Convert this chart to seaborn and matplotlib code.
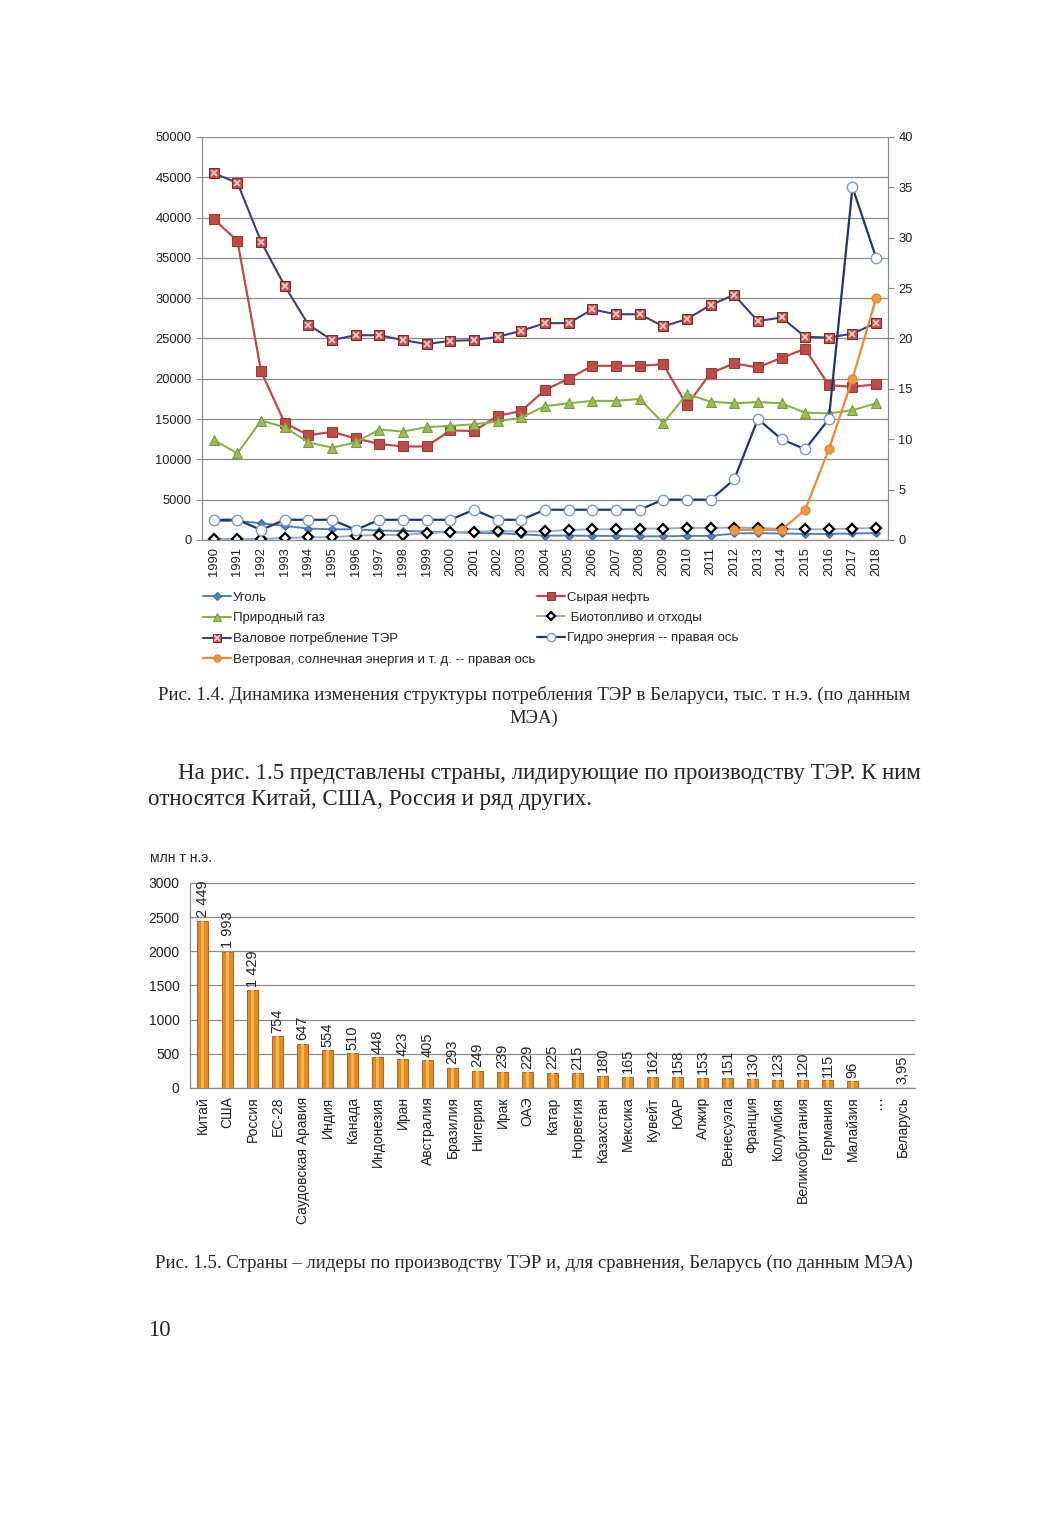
import numpy as np
import pandas as pd
import matplotlib
matplotlib.use('Agg')
import matplotlib.pyplot as plt
import seaborn as sns

# Fig 1.4 data (thousand t o.e.), right-axis series in separate lists
years = list(range(1990, 2019))
coal = [2360, 2360, 2070, 1740, 1410, 1320, 1320, 1160, 1120, 1030, 950, 870, 830, 700,
        540, 540, 500, 500, 450, 450, 500, 500, 800, 850, 800, 750, 750, 800, 850]
crude = [39800, 37100, 20900, 14500, 13000, 13400, 12600, 11900, 11600, 11600, 13600, 13500,
         15400, 16000, 18600, 20000, 21600, 21600, 21600, 21800, 16700, 20700, 21900, 21400,
         22600, 23700, 19200, 19000, 19300]
gas = [12400, 10750, 14800, 14000, 12100, 11450, 12100, 13700, 13450, 14000, 14150, 14350,
       14700, 15200, 16600, 16950, 17250, 17250, 17500, 14500, 18100, 17150, 16950, 17100,
       16950, 15800, 15700, 16100, 16950]
biofuel = [120, 120, 120, 250, 330, 330, 540, 620, 620, 830, 990, 990, 1120, 1030, 1070,
           1240, 1320, 1320, 1410, 1410, 1490, 1490, 1530, 1490, 1370, 1320, 1320, 1410, 1490]
gross = [45500, 44300, 37000, 31500, 26700, 24800, 25400, 25400, 24800, 24300, 24700, 24800,
         25200, 25950, 26900, 26900, 28600, 28000, 28000, 26500, 27400, 29150, 30400, 27150,
         27600, 25200, 25100, 25600, 26900]
hydro = [2, 2, 1, 2, 2, 2, 1, 2, 2, 2, 2, 3, 2, 2, 3, 3, 3, 3, 3, 4, 4, 4, 6, 12, 10, 9, 12, 35, 28]
wind = [np.nan] * 22 + [1, 1, 1, 3, 9, 16, 24]

# Fig 1.5 data (mln t o.e.)
countries = ['Китай', 'США', 'Россия', 'ЕС-28', 'Саудовская Аравия', 'Индия', 'Канада',
             'Индонезия', 'Иран', 'Австралия', 'Бразилия', 'Нигерия', 'Ирак', 'ОАЭ', 'Катар',
             'Норвегия', 'Казахстан', 'Мексика', 'Кувейт', 'ЮАР', 'Алжир', 'Венесуэла',
             'Франция', 'Колумбия', 'Великобритания', 'Германия', 'Малайзия', '…', 'Беларусь']
production = [2449, 1993, 1429, 754, 647, 554, 510, 448, 423, 405, 293, 249, 239, 229, 225,
              215, 180, 165, 162, 158, 153, 151, 130, 123, 120, 115, 96, np.nan, 3.95]
bar_labels = ['2 449', '1 993', '1 429', '754', '647', '554', '510', '448', '423', '405', '293',
              '249', '239', '229', '225', '215', '180', '165', '162', '158', '153', '151', '130',
              '123', '120', '115', '96', '', '3,95']

sns.set_theme(style='white')
plt.rcParams['font.family'] = ['Liberation Sans', 'DejaVu Sans']
GRID = '#8c8c8c'
SERIF = ['Liberation Serif', 'DejaVu Serif']

fig = plt.figure(figsize=(10.58, 15.30), dpi=100)

#----- Fig 1.4 : line chart with secondary axis
ax1 = fig.add_axes([0.1909, 0.6471, 0.6484, 0.2634])
ax1r = ax1.twinx()

sns.lineplot(x=years, y=coal, ax=ax1, color='#4f81bd', lw=1.4, marker='D', ms=4.5,
             mec='#3a6aa5', mfc='#4f81bd')
h_coal = ax1.lines[-1]
sns.lineplot(x=years, y=crude, ax=ax1, color='#be4b48', lw=1.6, marker='s', ms=6.5,
             mec='#a03a37', mfc='#be4b48')
h_crude = ax1.lines[-1]
sns.lineplot(x=years, y=gas, ax=ax1, color='#8db04a', lw=1.5, marker='^', ms=6.5,
             mec='#7a9a3a', mfc='#9bbb59')
h_gas = ax1.lines[-1]
sns.lineplot(x=years, y=biofuel, ax=ax1, color='#9aaccc', lw=1.4, marker='D', ms=5.5,
             mec='black', mfc='white', mew=1.6)
h_bio = ax1.lines[-1]
sns.lineplot(x=years, y=gross, ax=ax1, color='#3f3f7a', lw=1.5, marker='s', ms=7.5,
             mec='#7e2a28', mfc='#c0504d')
h_gross = ax1.lines[-1]
sns.lineplot(x=years, y=gross, ax=ax1, ls='none', marker='x', ms=5, mec='#f6cccc', mew=1.3)
h_gross_x = ax1.lines[-1]

sns.lineplot(x=years, y=hydro, ax=ax1r, color='#1f3864', lw=1.6, marker='o', ms=7.5,
             mec='#7f9cc8', mfc='white', mew=1.0)
h_hydro = ax1r.lines[-1]
sns.lineplot(x=years, y=wind, ax=ax1r, color='#eb8a3c', lw=1.6, marker='o', ms=6.5,
             mec='#e07f30', mfc='#f0993f')
h_wind = ax1r.lines[-1]

ax1.set_xlim(1989.5, 2018.5)
ax1.set_ylim(0, 50000)
ax1.set_yticks(range(0, 50001, 5000))
ax1r.set_ylim(0, 40)
ax1r.set_yticks(range(0, 41, 5))
ax1.set_xticks(years)
ax1.set_xticklabels([str(y) for y in years], rotation=90)
ax1.yaxis.grid(True, color=GRID, lw=0.9)
ax1.set_axisbelow(True)
ax1r.grid(False)
for a in (ax1, ax1r):
    for s in a.spines.values():
        s.set_visible(False)
    a.tick_params(axis='both', labelsize=9.3, colors='#222222', length=4, width=0.8)
    a.tick_params(axis='both', color=GRID)
ax1.spines['left'].set_visible(True)
ax1.spines['bottom'].set_visible(True)
ax1r.spines['right'].set_visible(True)
for s in (ax1.spines['left'], ax1.spines['bottom'], ax1r.spines['right']):
    s.set_color(GRID)
    s.set_linewidth(0.9)
ax1.tick_params(axis='x', length=3, pad=2)
ax1.set_xlabel('')

handles = [h_coal, h_gas, (h_gross, h_gross_x), h_wind, h_crude, h_bio, h_hydro]
labels = ['Уголь', 'Природный газ', 'Валовое потребление ТЭР',
          'Ветровая, солнечная энергия и т. д. -- правая ось',
          'Сырая нефть', ' Биотопливо и отходы', 'Гидро энергия -- правая ось']
fig.legend(handles, labels, ncol=2, loc='upper left', bbox_to_anchor=(0.186, 0.6178),
           frameon=False, fontsize=9.5, handlelength=2.1, handletextpad=0.15,
           columnspacing=0.15, labelspacing=0.62, borderpad=0, markerscale=0.8)

fig.text(0.5047, 1 - 695 / 1530,
         'Рис. 1.4. Динамика изменения структуры потребления ТЭР в Беларуси, тыс. т н.э. (по данным',
         ha='center', va='center', family=SERIF, fontsize=13.5)
fig.text(0.5047, 1 - 718 / 1530, 'МЭА)', ha='center', va='center', family=SERIF, fontsize=13.5)

fig.text(178 / 1058, 1 - 773 / 1530,
         'На рис. 1.5 представлены страны, лидирующие по производству ТЭР. К ним',
         ha='left', va='center', family=SERIF, fontsize=16.45)
fig.text(148 / 1058, 1 - 800 / 1530, 'относятся Китай, США, Россия и ряд других.',
         ha='left', va='center', family=SERIF, fontsize=16.45)

#----- Fig 1.5 : bar chart
ax2 = fig.add_axes([0.1796, 0.2889, 0.6853, 0.134])
df = pd.DataFrame({'country': countries, 'value': production})
sns.barplot(data=df, x='country', y='value', order=countries, ax=ax2, color='#e58a1e',
            saturation=1, width=0.42, edgecolor='#a85410', linewidth=0.6, errorbar=None)
sns.barplot(data=df, x='country', y='value', order=countries, ax=ax2, color='#f7b655',
            saturation=1, width=0.14, linewidth=0, errorbar=None)

for p in ax2.patches[:len(countries)]:
    h = p.get_height()
    if np.isnan(h) or p.get_width() < 0.3:
        continue
    idx = int(round(p.get_x() + p.get_width() / 2))
    ax2.annotate(bar_labels[idx], (p.get_x() + p.get_width() / 2, h), xytext=(0, 2.5),
                 textcoords='offset points', rotation=90, ha='center', va='bottom', fontsize=10.5)

ax2.set_xlim(-0.5, len(countries) - 0.5)
ax2.set_ylim(0, 3000)
ax2.set_yticks(range(0, 3001, 500))
ax2.yaxis.grid(True, color=GRID, lw=0.9)
ax2.set_axisbelow(True)
ax2.set_xlabel('')
ax2.set_ylabel('')
ax2.set_xticks(range(len(countries)))
ax2.set_xticklabels(countries, rotation=90)
ax2.set_xticks(np.arange(-0.5, len(countries), 1), minor=True)
ax2.tick_params(axis='x', which='major', length=0, labelsize=10, pad=6, colors='#222222')
ax2.tick_params(axis='x', which='minor', length=4, color=GRID, width=0.8)
ax2.tick_params(axis='y', labelsize=10, length=4, color=GRID, colors='#222222')
ax2.tick_params(axis='y', color=GRID)
for s in ax2.spines.values():
    s.set_visible(False)
for k in ('left', 'bottom'):
    ax2.spines[k].set_visible(True)
    ax2.spines[k].set_color(GRID)
    ax2.spines[k].set_linewidth(0.9)

fig.text(150 / 1058, 1 - 858 / 1530, 'млн т н.э.', ha='left', va='center', fontsize=10)

fig.text(0.5047, 1 - 1263 / 1530,
         'Рис. 1.5. Страны – лидеры по производству ТЭР и, для сравнения, Беларусь (по данным МЭА)',
         ha='center', va='center', family=SERIF, fontsize=13.5)
fig.text(148 / 1058, 1 - 1330 / 1530, '10', ha='left', va='center', family=SERIF, fontsize=16.45)

fig.savefig('out.png', dpi=100, facecolor='white')
